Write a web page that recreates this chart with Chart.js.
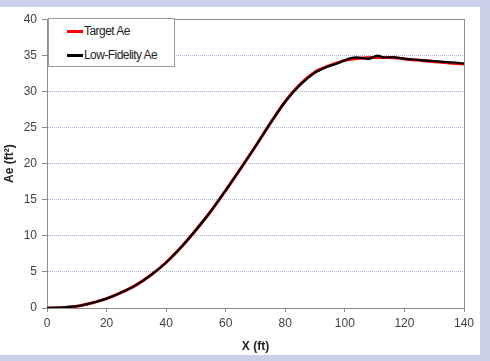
<!DOCTYPE html>
<html>
<head>
<meta charset="utf-8">
<script src="https://cdn.jsdelivr.net/npm/chart.js@4.4.1/dist/chart.umd.min.js"></script>
<style>
  html, body { margin: 0; padding: 0; }
  body { width: 490px; height: 361px; background: #c9d1ea; position: relative; overflow: hidden; }
  #panel { position: absolute; left: 0; top: 7px; width: 480px; height: 348px; background: #fff; }
  #c { position: absolute; left: 0; top: 0; }
  #legend {
    position: absolute; left: 48px; top: 11px; width: 125px; height: 47px;
    border: 1px solid #9a9a9a; background: #fff;
    font-family: "Liberation Sans", Arial, sans-serif; font-size: 12px; letter-spacing: -0.55px; color: #222;
  }
  #legend .item { position: absolute; left: 18px; height: 16px; line-height: 16px; white-space: nowrap; }
  #legend .swatch { display: inline-block; width: 16px; height: 3px; vertical-align: middle; margin-right: 1px; }
</style>
</head>
<body>
<div id="panel">
  <canvas id="c" width="480" height="348"></canvas>
  <div id="legend"></div>
</div>
<script>
// data
const targetX = [0, 5, 10, 15, 20, 25, 30, 35, 40, 45, 50, 55, 60, 65, 70, 75, 80, 85, 90, 95, 100, 105, 110, 115, 120, 125, 130, 135, 140];
const targetAe = [0, 0.05, 0.25, 0.7, 1.3, 2.15, 3.2, 4.6, 6.3, 8.4, 10.8, 13.4, 16.3, 19.3, 22.4, 25.6, 28.6, 31.0, 32.7, 33.6, 34.3, 34.6, 34.7, 34.7, 34.5, 34.3, 34.1, 33.95, 33.8];

const lowFiX = [0, 5, 10, 15, 20, 25, 30, 35, 40, 45, 50, 55, 60, 65, 70, 75, 80, 85, 90, 94, 97, 100, 102, 104, 106, 108, 111, 113, 116, 119, 122, 126, 130, 134, 137, 140];
const lowFiAe = [0, 0.08, 0.25, 0.7, 1.3, 2.15, 3.2, 4.6, 6.3, 8.4, 10.8, 13.4, 16.3, 19.3, 22.4, 25.6, 28.6, 30.9, 32.6, 33.4, 33.8, 34.3, 34.6, 34.7, 34.6, 34.5, 34.95, 34.7, 34.75, 34.6, 34.45, 34.3, 34.2, 34.05, 34.0, 33.85];

const xTicks = { min: 0, max: 140, step: 20 };
const yTicks = { min: 0, max: 40, step: 5 };

const axisGray = '#8c8c8c';
const labelFont = { family: '"Liberation Sans", Arial, sans-serif', size: 12 };

function toPoints(xs, ys) {
  return xs.map(function(x, i) { return { x: x, y: ys[i] }; });
}

const datasets = [{
  label: 'Target Ae',
  data: toPoints(targetX, targetAe),
  borderColor: '#ff0000',
  borderWidth: 3,
  pointRadius: 0,
  cubicInterpolationMode: 'monotone',
  order: 2
}, {
  label: 'Low-Fidelity Ae',
  data: toPoints(lowFiX, lowFiAe),
  borderColor: '#000000',
  borderWidth: 2.2,
  pointRadius: 0,
  tension: 0.3,
  order: 1
}];

// gray frame round the plot area (top and right sides too)
const frame = {
  id: 'frame',
  beforeDatasetsDraw(chart) {
    const a = chart.chartArea, ctx = chart.ctx;
    ctx.save();
    ctx.strokeStyle = axisGray;
    ctx.lineWidth = 1;
    ctx.strokeRect(Math.round(a.left) + 0.5, Math.round(a.top) + 0.5, Math.round(a.right - a.left), Math.round(a.bottom - a.top));
    ctx.restore();
  }
};

new Chart(document.getElementById('c'), {
  type: 'line',
  data: { datasets: datasets },
  options: {
    responsive: false,
    animation: false,
    layout: { padding: { top: 9, right: 16, left: 0, bottom: 0 } },
    plugins: { legend: { display: false }, tooltip: { enabled: false } },
    scales: {
      x: {
        type: 'linear',
        min: xTicks.min, max: xTicks.max,
        afterFit: function(s) { s.height = 47; },
        ticks: { stepSize: xTicks.step, color: '#404040', font: labelFont, padding: 4, maxRotation: 0 },
        grid: { drawOnChartArea: false, drawTicks: true, tickLength: 4, tickColor: axisGray },
        border: { color: axisGray },
        title: { display: true, text: 'X (ft)', color: '#222', font: { family: '"Liberation Sans", Arial, sans-serif', size: 12, weight: 'bold' }, padding: { top: 0, bottom: 1 } }
      },
      y: {
        type: 'linear',
        min: yTicks.min, max: yTicks.max,
        afterFit: function(s) { s.width = 47; },
        ticks: { stepSize: yTicks.step, color: '#404040', font: labelFont, padding: 5 },
        grid: { color: '#9fb7de', lineWidth: 1, drawTicks: true, tickLength: 5, tickColor: axisGray },
        border: { color: axisGray, dash: [1, 1] },
        title: { display: true, text: 'Ae (ft²)', color: '#222', font: { family: '"Liberation Sans", Arial, sans-serif', size: 12, weight: 'bold' }, padding: { top: 2, bottom: 0 } }
      }
    }
  },
  plugins: [frame]
});

// legend box inside the plot, as real text
const legend = document.getElementById('legend');
datasets.forEach(function(ds, i) {
  const item = document.createElement('div');
  item.className = 'item';
  item.style.top = (4 + i * 24) + 'px';
  item.innerHTML = '<span class="swatch" style="background:' + ds.borderColor + '"></span>' + ds.label;
  legend.appendChild(item);
});
</script>
</body>
</html>
